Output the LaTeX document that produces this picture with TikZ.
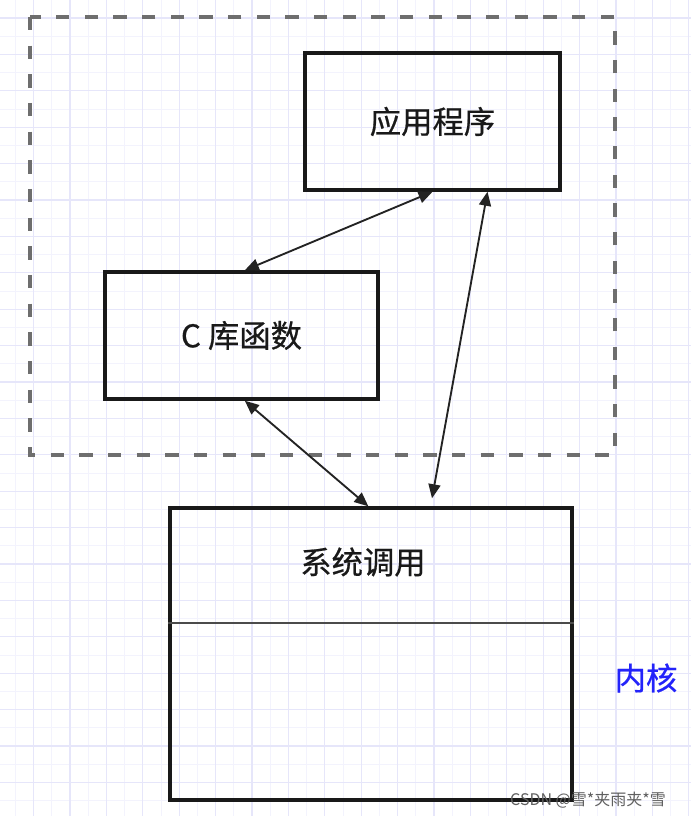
\documentclass[tikz,border=0pt]{standalone}
\usepackage{fontspec}
\newfontfamily\cjk[FakeBold=0.6]{Noto Sans CJK SC}
\newfontfamily\cjkw{Noto Sans CJK SC}
\usetikzlibrary{arrows.meta,calc}
\definecolor{minorg}{RGB}{243,243,253}
\definecolor{majorg}{RGB}{230,230,250}
\definecolor{dashg}{RGB}{110,110,110}
\definecolor{boxc}{RGB}{25,25,25}
\definecolor{arrc}{RGB}{35,35,35}
\definecolor{divc}{RGB}{75,75,75}
\definecolor{kblue}{RGB}{35,35,250}
\definecolor{wmc}{RGB}{95,95,95}
\tikzset{
  box/.style={draw=boxc, line width=2.6pt, rectangle, inner sep=0pt},
  lbl/.style={font=\cjk\fontsize{23.5pt}{28pt}\selectfont, text=boxc},
  conn/.style={draw=arrc, line width=1.4pt,
    {Triangle[length=10.5pt,width=9pt]}-{Triangle[length=10.5pt,width=9pt]}},
  minorline/.style={draw=minorg, line width=0.7pt},
  majorline/.style={draw=majorg, line width=0.8pt},
  group/.style={draw=dashg, line width=2.6pt, dash pattern=on 10pt off 11.5pt}
}
\begin{document}
\begin{tikzpicture}[x=0.75pt,y=-0.75pt]
\useasboundingbox (0,0) rectangle (691,816);
\fill[white] (0,0) rectangle (691,816);
% grid
\foreach \i in {-4,...,34} \draw[minorline] ({70+18.2*\i},0) -- ({70+18.2*\i},816);
\foreach \i in {-1,...,44} \draw[minorline] (0,{18+18.2*\i}) -- (691,{18+18.2*\i});
\foreach \i in {-2,...,17} \draw[majorline] ({70+36.4*\i},0) -- ({70+36.4*\i},816);
\foreach \i in {0,...,22} \draw[majorline] (0,{18+36.4*\i}) -- (691,{18+36.4*\i});
% user-space group
\draw[group] (30,17) rectangle (615,455);
% boxes
\node[box, lbl, minimum width=191.25pt, minimum height=102.75pt] (app) at (432.5,121.5) {应用程序};
\node[box, lbl, minimum width=204.75pt, minimum height=95.25pt] (clib) at (241.5,335.5) {C 库函数};
\node[box, minimum width=301.5pt, minimum height=219pt] (sys) at (371,654) {};
\node[lbl] (syst) at (363,562) {系统调用};
\coordinate (divy) at (0,623);
\draw[draw=divc, line width=1.5pt] (sys.west |- divy) -- (sys.east |- divy);
% connectors
\draw[conn] ([xshift=2.5pt]clib.north) -- (app.south);
\draw[conn] ([xshift=2.5pt]clib.south) -- ([xshift=-2pt]sys.north);
\draw[conn] ([xshift=41.25pt]app.south) -- ([xshift=45.75pt,yshift=6pt]sys.north);
% labels
\node[font=\cjk\fontsize{23.5pt}{28pt}\selectfont, text=kblue] (kern) at (646,678) {内核};
\node[font=\cjkw\fontsize{12pt}{14pt}\selectfont, text=wmc] (wm) at (588,800) {CSDN @雪*夹雨夹*雪};
\end{tikzpicture}
\end{document}
